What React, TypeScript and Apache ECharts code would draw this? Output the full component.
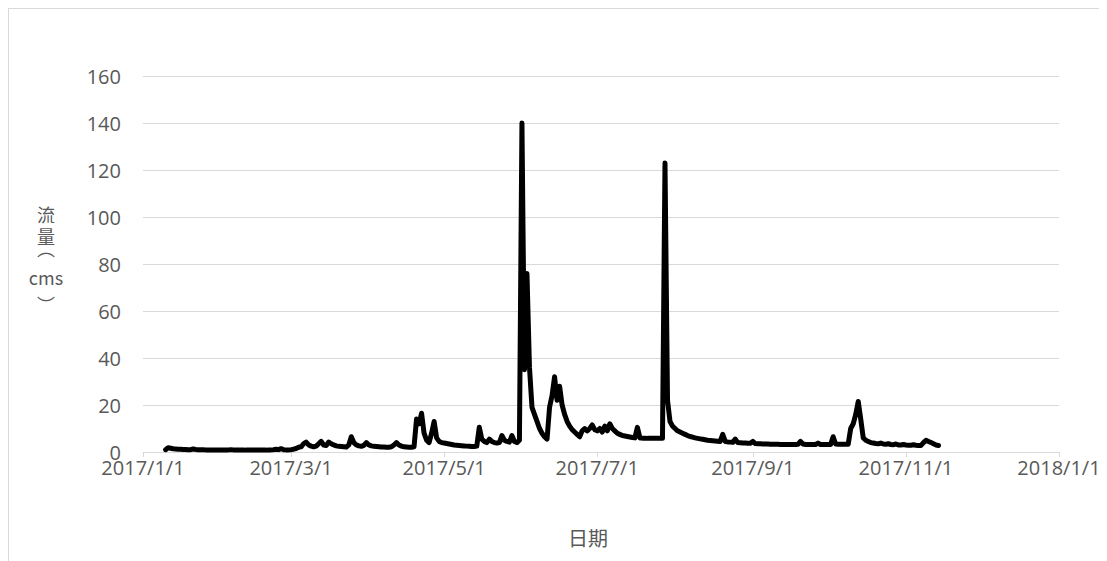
import React, { useEffect, useRef } from "react";
import * as echarts from "echarts";

// Tick labels
const xTickLabels = ["2017/1/1", "2017/3/1", "2017/5/1", "2017/7/1", "2017/9/1", "2017/11/1", "2018/1/1"];
const yMin = 0;
const yMax = 160;
const yStep = 20;
const xAxisName = "日期";
// vertical axis title "流量(cms)", one piece per stacked line
const yAxisNameParts = ["流", "量", "︵", "cms", "︶"];

// Daily discharge (cms), starting 2017/1/10
const seriesStart = "2017/1/10";
const flowJan = [1.0, 1.8, 1.6, 1.4, 1.3, 1.2, 1.2, 1.1, 1.1, 1.0, 1.0, 1.3, 1.1, 1.0, 1.0, 1.0, 0.9, 0.9, 0.9, 0.9, 0.9, 0.9];
const flowFeb = [0.9, 0.9, 0.9, 0.9, 1.0, 0.9, 0.9, 0.9, 0.9, 0.9, 0.8, 0.8, 0.8, 0.8, 0.8, 0.8, 0.8, 0.8, 0.8, 0.9, 0.9, 1.0, 1.2, 1.0, 1.4, 1.0, 0.9, 0.9];
const flowMar = [1.0, 1.2, 1.5, 2.0, 2.2, 3.5, 4.2, 3.0, 2.5, 2.2, 2.5, 3.5, 4.5, 3.0, 2.8, 4.2, 3.5, 3.0, 2.6, 2.4, 2.3, 2.2, 2.1, 3.0, 6.5, 4.0, 3.0, 2.6, 2.4, 2.8, 4.0];
const flowApr = [3.0, 2.6, 2.4, 2.3, 2.2, 2.1, 2.1, 2.0, 2.0, 2.2, 3.0, 4.0, 3.0, 2.5, 2.2, 2.1, 2.0, 2.0, 2.2, 14.0, 12.0, 16.5, 8.0, 5.0, 4.0, 8.0, 13.0, 6.0, 4.5, 4.0];
const flowMay = [3.8, 3.6, 3.4, 3.2, 3.0, 2.9, 2.8, 2.7, 2.6, 2.5, 2.4, 2.3, 2.3, 2.5, 10.5, 5.5, 4.5, 4.0, 5.5, 4.5, 4.0, 3.8, 4.0, 7.0, 5.0, 4.5, 4.2, 7.0, 4.5, 4.0, 5.0];
const flowJun = [140, 35, 76, 36, 19, 16, 13, 10, 8, 6.5, 5.5, 19, 24, 32, 22, 28, 20, 16, 13, 11, 9.5, 8.5, 7.5, 6.5, 9, 10, 9, 10, 11.5, 9.5];
const flowJul = [9, 10, 8.5, 11, 9, 12, 10, 9, 8, 7.5, 7, 6.8, 6.6, 6.4, 6.2, 6, 10.5, 6, 5.9, 5.9, 5.8, 5.8, 5.8, 5.8, 5.8, 5.8, 5.8, 123, 22, 13, 11];
const flowAug = [10, 9, 8.5, 8, 7.5, 7, 6.6, 6.3, 6, 5.8, 5.6, 5.4, 5.2, 5, 4.9, 4.8, 4.7, 4.6, 4.5, 7.5, 4.5, 4.3, 4.2, 4.1, 5.5, 4.0, 3.9, 3.8, 3.8, 3.7, 3.7];
const flowSep = [4.5, 3.6, 3.5, 3.5, 3.4, 3.4, 3.4, 3.3, 3.3, 3.3, 3.3, 3.2, 3.2, 3.2, 3.2, 3.2, 3.2, 3.2, 3.3, 4.5, 3.4, 3.2, 3.2, 3.2, 3.2, 3.2, 3.8, 3.2, 3.2, 3.2];
const flowOct = [3.2, 3.2, 6.5, 3.4, 3.3, 3.3, 3.3, 3.3, 3.3, 10, 12, 16, 21.5, 14, 6, 5, 4.5, 4, 3.8, 3.6, 3.5, 3.8, 3.4, 3.3, 3.5, 3.2, 3.1, 3.4, 3.0, 3.0, 3.2];
const flowNov = [3.0, 2.9, 2.9, 3.1, 2.9, 2.8, 2.8, 4.0, 5.0, 4.5, 4.0, 3.5, 3.0, 2.8];

const parseDate = (s: string) => {
  const [y, m, d] = s.split("/").map(Number);
  return new Date(y, m - 1, d);
};

const fmtDate = (t: number) => {
  const d = new Date(t);
  return `${d.getFullYear()}/${d.getMonth() + 1}/${d.getDate()}`;
};

export default function App() {
  const ref = useRef<HTMLDivElement>(null);
  useEffect(() => {
    const chart = echarts.init(ref.current!, null, { renderer: "svg" });
    const flow = [
      ...flowJan, ...flowFeb, ...flowMar, ...flowApr, ...flowMay, ...flowJun,
      ...flowJul, ...flowAug, ...flowSep, ...flowOct, ...flowNov,
    ];
    const start = parseDate(seriesStart);
    const data = flow.map((v, i) => {
      const d = new Date(start.getFullYear(), start.getMonth(), start.getDate() + i);
      return [d.getTime(), v];
    });
    const tickTimes = xTickLabels.map((s) => parseDate(s).getTime());
    const font = "'Open Sans', sans-serif";
    const cjk = "'Noto Sans CJK TC', 'Open Sans', sans-serif";
    const nameCentersY = [205, 227, 239, 268, 295];
    chart.setOption({
      animation: false,
      backgroundColor: "#fff",
      textStyle: { fontFamily: font },
      grid: { left: 134, top: 67, width: 916, height: 376, containLabel: false },
      xAxis: {
        type: "value",
        min: tickTimes[0],
        max: tickTimes[tickTimes.length - 1],
        name: xAxisName,
        nameLocation: "middle",
        nameGap: 75,
        nameTextStyle: { color: "#595959", fontSize: 20, fontFamily: cjk, padding: [0, 26, 0, 0] },
        axisLine: { show: true, lineStyle: { color: "#d9d9d9", width: 1 } },
        axisTick: { show: true, customValues: tickTimes, length: 5, lineStyle: { color: "#d9d9d9" } },
        axisLabel: {
          customValues: tickTimes,
          formatter: (v: number) => fmtDate(v),
          color: "#595959",
          fontSize: 20,
          fontFamily: font,
          margin: 5,
          hideOverlap: false,
          showMinLabel: true,
          showMaxLabel: true,
        },
        splitLine: { show: false },
      },
      yAxis: {
        type: "value",
        min: yMin,
        max: yMax,
        interval: yStep,
        axisLine: { show: false },
        axisTick: { show: false },
        axisLabel: { color: "#595959", fontSize: 20, fontFamily: font, margin: 22 },
        splitLine: { show: true, lineStyle: { color: "#d9d9d9", width: 1 } },
      },
      graphic: yAxisNameParts.map((t, i) => ({
        type: "text",
        x: 37,
        y: nameCentersY[i],
        style: {
          text: t,
          fill: "#595959",
          fontSize: 18,
          align: "center",
          verticalAlign: "middle",
          fontFamily: cjk,
        },
      })),
      series: [
        {
          type: "line",
          data,
          showSymbol: false,
          symbol: "none",
          lineStyle: { color: "#000", width: 5, join: "round", cap: "round" },
          z: 3,
        },
      ],
    });
    return () => chart.dispose();
  }, []);
  return (
    <div
      ref={ref}
      style={{ width: 1098, height: 552, borderLeft: "1px solid #d9d9d9", borderTop: "1px solid #d9d9d9", background: "#fff" }}
    />
  );
}
